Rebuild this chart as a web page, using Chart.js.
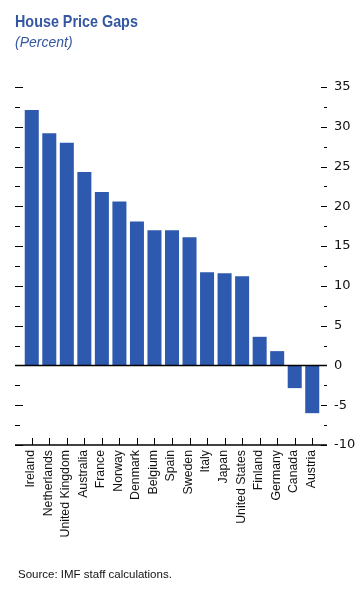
<!DOCTYPE html>
<html>
<head>
<meta charset="utf-8">
<script src="https://cdn.jsdelivr.net/npm/chart.js@4.4.1/dist/chart.umd.min.js"></script>
<style>
  html, body { margin: 0; padding: 0; background: #fff; }
  #wrap { position: relative; width: 362px; height: 592px; overflow: hidden; }
  #c { position: absolute; left: 0; top: 0; }
  .title { position: absolute; left: 15px; top: 12px; font-family: "Liberation Sans", Arial, sans-serif; font-weight: bold; font-size: 16.5px; color: #3557a2; white-space: nowrap; transform: scaleX(0.87); transform-origin: 0 0; }
  .sub { position: absolute; left: 15px; top: 34px; font-family: "Liberation Sans", Arial, sans-serif; font-style: italic; font-size: 14px; color: #3557a2; white-space: nowrap; }
  .src { position: absolute; left: 18px; top: 568px; font-family: "Liberation Sans", Arial, sans-serif; font-size: 11.5px; color: #111; white-space: nowrap; }
</style>
</head>
<body>
<div id="wrap">
  <canvas id="c" width="362" height="592"></canvas>
  <div class="title">House Price Gaps</div>
  <div class="sub">(Percent)</div>
  <div class="src">Source: IMF staff calculations.</div>
</div>
<script>
const categories = ["Ireland", "Netherlands", "United Kingdom", "Australia", "France", "Norway", "Denmark", "Belgium", "Spain", "Sweden", "Italy", "Japan", "United States", "Finland", "Germany", "Canada", "Austria"];
const gapValues = [32.1, 29.2, 28.0, 24.3, 21.8, 20.6, 18.1, 17.0, 17.0, 16.1, 11.7, 11.6, 11.2, 3.6, 1.8, -2.85, -6.0];
const yMin = -10;
const yMax = 35;
const yStep = 2.5;

const frameLeft = 15, frameRight = 327;

const framePlugin = {
  id: 'frame',
  afterDatasetsDraw(chart) {
    const ctx = chart.ctx;
    const y = chart.scales.y;
    const x = chart.scales.x;
    ctx.save();
    ctx.strokeStyle = '#000';
    ctx.lineWidth = 1;
    for (let v = yMin; v <= yMax + 0.001; v += yStep) {
      const py = Math.round(y.getPixelForValue(v)) + 0.5;
      const major = Math.abs(v % 5) < 0.001;
      ctx.beginPath();
      ctx.moveTo(frameLeft, py);
      ctx.lineTo(frameLeft + (major ? 8 : 5), py);
      ctx.moveTo(frameRight - (major ? 6 : 3), py);
      ctx.lineTo(frameRight, py);
      ctx.stroke();
    }
    ctx.lineWidth = 1.5;
    [0, yMin].forEach(v => {
      const py = y.getPixelForValue(v);
      ctx.beginPath();
      ctx.moveTo(frameLeft, py);
      ctx.lineTo(frameRight, py);
      ctx.stroke();
    });
    ctx.lineWidth = 1;
    const by = y.getPixelForValue(yMin);
    categories.forEach((c, i) => {
      const px = Math.round(x.getPixelForValue(i)) + 0.5;
      ctx.beginPath();
      ctx.moveTo(px, by);
      ctx.lineTo(px, by - 7);
      ctx.stroke();
    });
    ctx.restore();
  }
};

new Chart(document.getElementById('c'), {
  type: 'bar',
  data: {
    labels: categories,
    datasets: [{
      data: gapValues,
      backgroundColor: '#2d5aae',
      borderWidth: 0,
      categoryPercentage: 1.0,
      barPercentage: 0.8
    }]
  },
  options: {
    responsive: false,
    animation: false,
    devicePixelRatio: 1,
    layout: { padding: { left: 23, top: 87, right: 0, bottom: 0 } },
    plugins: { legend: { display: false }, tooltip: { enabled: false }, title: { display: false } },
    scales: {
      x: {
        grid: { display: false, drawTicks: false },
        border: { display: false },
        afterFit(scale) { scale.height = 147; },
        ticks: {
          autoSkip: false,
          minRotation: 90,
          maxRotation: 90,
          padding: 5,
          labelOffset: -1,
          color: '#111',
          font: { family: '"Liberation Sans", Arial, sans-serif', size: 12.3 }
        }
      },
      y: {
        position: 'right',
        min: yMin,
        max: yMax,
        grid: { display: false, drawTicks: false },
        border: { display: false },
        afterFit(scale) { scale.width = 41; },
        ticks: {
          stepSize: yStep,
          padding: 13,
          color: '#111',
          font: { family: '"DejaVu Sans", sans-serif', size: 13, style: 'condensed' },
          callback(v) { return Math.abs(v % 5) < 0.001 ? String(v) : ''; }
        }
      }
    }
  },
  plugins: [framePlugin]
});
</script>
</body>
</html>
